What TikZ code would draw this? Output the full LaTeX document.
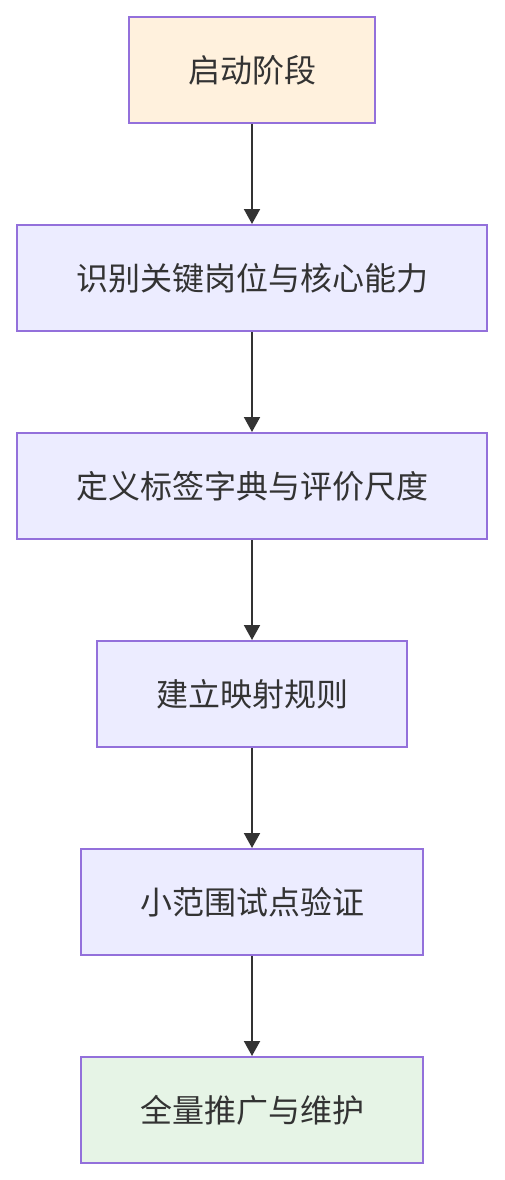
\documentclass[tikz,border=0pt]{standalone}
\usepackage{fontspec}
\setmainfont{Noto Sans CJK SC}
\usetikzlibrary{arrows.meta}
\definecolor{boxline}{HTML}{9370DB}
\definecolor{startfill}{HTML}{FFF1DD}
\definecolor{stepfill}{HTML}{ECECFF}
\definecolor{endfill}{HTML}{E6F4E6}
\definecolor{txt}{HTML}{333333}
\tikzset{
    stagebox/.style={draw=boxline,line width=2pt,fill=stepfill,minimum height=106pt,
                     text=txt,font=\fontsize{32}{38}\selectfont,inner sep=0pt},
    flow/.style={draw=txt,line width=2pt,-{Triangle[length=15pt,width=16pt]}}
}
\begin{document}
\begin{tikzpicture}[x=1pt,y=-1pt]
                \useasboundingbox[fill=white] (0,0) rectangle (504,1180);
                    \node[stagebox,fill=startfill,minimum width=246pt] (start) at (252,70) {启动阶段};
                    \node[stagebox,minimum width=470pt] (ident) at (252,278) {识别关键岗位与核心能力};
                    \node[stagebox,minimum width=470pt] (dict) at (252,486) {定义标签字典与评价尺度};
                    \node[stagebox,minimum width=310pt] (map) at (252,694) {建立映射规则};
                    \node[stagebox,minimum width=342pt] (pilot) at (252,902) {小范围试点验证};
                    \node[stagebox,fill=endfill,minimum width=342pt] (roll) at (252,1110) {全量推广与维护};
                \draw[flow] (start) -- (ident);
                \draw[flow] (ident) -- (dict);
                \draw[flow] (dict) -- (map);
                \draw[flow] (map) -- (pilot);
                \draw[flow] (pilot) -- (roll);
                \end{tikzpicture}
\end{document}
